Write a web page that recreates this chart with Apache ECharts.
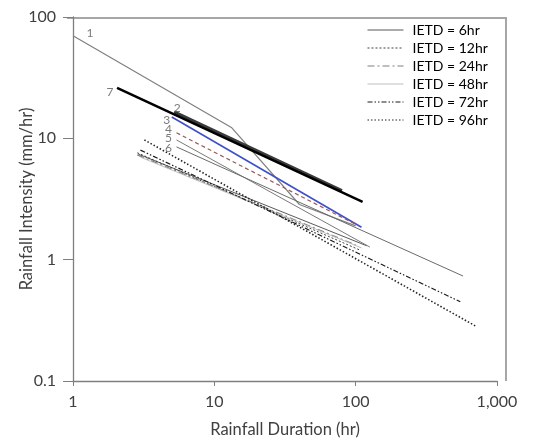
<!DOCTYPE html>
<html>
<head>
<meta charset="utf-8">
<script src="https://cdn.jsdelivr.net/npm/echarts@6/dist/echarts.min.js"></script>
<style>
  html, body { margin: 0; padding: 0; background: #fff; }
  #chart { width: 533px; height: 441px; }
</style>
</head>
<body>
<div id="chart"></div>
<script>
// Intensity–duration relations: [duration (hr), intensity (mm/hr)]
const line1 = [[1, 70], [13.3, 12.2], [40, 2.85], [100, 1.9]];
const line2 = [[5.2, 16.5], [80, 3.7]];
const line3 = [[5.0, 15.0], [110, 1.85]];
const line4 = [[5.4, 11.1], [105, 1.9]];
const line5 = [[5.4, 9.7], [126, 1.27]];
const line6 = [[5.4, 8.5], [575, 0.733]];
const line7 = [[2.05, 26], [112, 3.0]];

const ietd6 = [[2.9, 7.4], [120, 1.3]];
const ietd12 = [[2.85, 7.6], [107, 1.2]];
const ietd24 = [[2.85, 7.3], [100, 1.32]];
const ietd48 = [[3.0, 7.0], [110, 1.25]];
const ietd72 = [[3.0, 8.0], [550, 0.45]];
const ietd96 = [[3.2, 9.7], [720, 0.28]];

const ietdNames = ['IETD = 6hr', 'IETD = 12hr', 'IETD = 24hr', 'IETD = 48hr', 'IETD = 72hr', 'IETD = 96hr'];
const xTicks = [1, 10, 100, 1000];
const yTicks = [0.1, 1, 10, 100];

const numbered = [
  { name: '1', data: line1, color: '#808080', width: 1.2, type: 'solid', off: [17, -3] },
  { name: '2', data: line2, color: '#3a3a3a', width: 3, type: 'solid', off: [3, -4] },
  { name: '3', data: line3, color: '#3f4fc8', width: 1.6, type: 'solid', off: [-5, 3] },
  { name: '4', data: line4, color: '#9a5a5a', width: 1.2, type: [4, 3], off: [-8, -4] },
  { name: '5', data: line5, color: '#7a7a7a', width: 1, type: 'solid', off: [-8, -2] },
  { name: '6', data: line6, color: '#6a6a6a', width: 1, type: 'solid', off: [-8, 1] },
  { name: '7', data: line7, color: '#000000', width: 2.5, type: 'solid', off: [-7, 4] }
];

const ietdStyles = [
  { data: ietd6, color: '#595959', width: 1, type: 'solid' },
  { data: ietd12, color: '#404040', width: 1, type: [2, 2] },
  { data: ietd24, color: '#7f7f7f', width: 1.3, type: [7, 3, 2, 3] },
  { data: ietd48, color: '#bfbfbf', width: 1, type: 'solid' },
  { data: ietd72, color: '#1a1a1a', width: 1.2, type: [5, 2, 1.5, 2, 1.5, 2] },
  { data: ietd96, color: '#262626', width: 1.6, type: [1.5, 2] }
];

const FONT = 'Lato';
const series = [];

numbered.forEach(function (s) {
  series.push({
    name: 'L' + s.name,
    type: 'line',
    data: s.data,
    symbol: 'none',
    silent: true,
    lineStyle: { color: s.color, width: s.width, type: s.type },
    z: 3
  });
});

ietdStyles.forEach(function (s, i) {
  series.push({
    name: ietdNames[i],
    type: 'line',
    data: s.data,
    symbol: 'none',
    silent: true,
    color: s.color,
    itemStyle: { color: s.color },
    lineStyle: { color: s.color, width: s.width, type: s.type },
    z: 2
  });
});

// numbers placed at the start of each numbered relation
series.push({
  name: 'labels',
  type: 'scatter',
  symbolSize: 0,
  silent: true,
  data: numbered.map(function (s) {
    return {
      value: s.data[0],
      label: { show: true, formatter: s.name, position: 'inside', offset: s.off }
    };
  }),
  label: { color: '#595959', fontSize: 12, fontFamily: FONT },
  z: 5
});

const chart = echarts.init(document.getElementById('chart'), null, { renderer: 'canvas' });
chart.setOption({
  animation: false,
  backgroundColor: '#ffffff',
  grid: { left: 73, right: 36, top: 17, bottom: 60, containLabel: false, outerBoundsMode: 'none' },
  legend: {
    data: ietdNames,
    orient: 'vertical',
    left: 367,
    top: 21,
    padding: 0,
    itemWidth: 36,
    itemHeight: 18.7,
    itemGap: 0,
    itemStyle: { opacity: 0, borderWidth: 0 },
    lineStyle: { width: 1 },
    textStyle: { fontFamily: FONT, fontSize: 14, color: '#000', lineHeight: 18, padding: [0, 0, 0, 4] }
  },
  xAxis: {
    type: 'log',
    logBase: 10,
    min: xTicks[0],
    max: xTicks[xTicks.length - 1],
    name: 'Rainfall Duration (hr)',
    nameLocation: 'middle',
    nameGap: 40,
    nameMoveOverlap: false,
    nameTextStyle: { fontFamily: FONT, fontSize: 16.5, color: '#404040' },
    axisLine: { lineStyle: { color: '#7f7f7f', width: 1.3 } },
    axisTick: { show: true, length: 5, lineStyle: { color: '#7f7f7f' } },
    minorTick: { show: false },
    splitLine: { show: false },
    axisLabel: {
      fontFamily: FONT, fontSize: 16, color: '#404040', margin: 13,
      formatter: function (v) { return Number(v).toLocaleString('en-US'); }
    }
  },
  yAxis: {
    type: 'log',
    logBase: 10,
    min: yTicks[0],
    max: yTicks[yTicks.length - 1],
    name: 'Rainfall Intensity (mm/hr)',
    nameLocation: 'middle',
    nameGap: 38,
    nameMoveOverlap: false,
    nameRotate: 90,
    nameTextStyle: { fontFamily: FONT, fontSize: 16.5, color: '#404040' },
    axisLine: { lineStyle: { color: '#7f7f7f', width: 1.3 } },
    axisTick: { show: true, length: 10, lineStyle: { color: '#7f7f7f' } },
    splitLine: { show: false },
    axisLabel: {
      fontFamily: FONT, fontSize: 16, color: '#404040', margin: 17,
      formatter: function (v) { return String(+Number(v).toPrecision(3)); }
    }
  },
  graphic: [
    { type: 'line', shape: { x1: 67, y1: 18, x2: 506, y2: 18 }, style: { stroke: '#a6a6a6', lineWidth: 2 }, silent: true },
    { type: 'line', shape: { x1: 506, y1: 17, x2: 506, y2: 381 }, style: { stroke: '#a6a6a6', lineWidth: 2 }, silent: true }
  ],
  series: series
});
</script>
</body>
</html>
